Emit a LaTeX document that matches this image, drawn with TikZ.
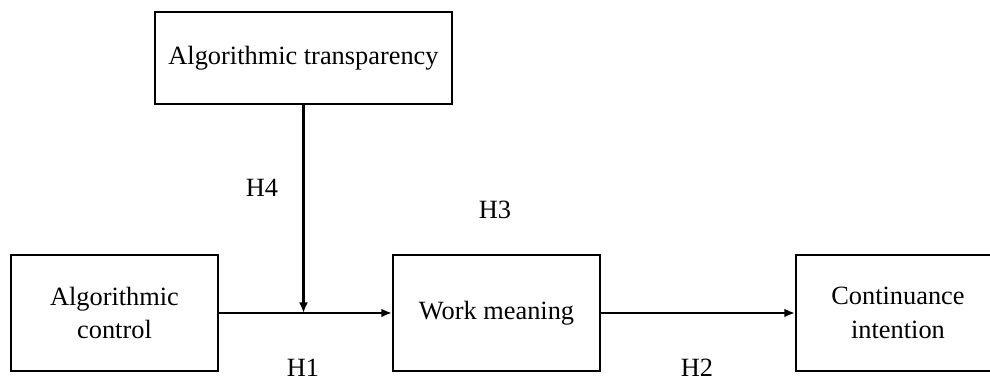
\documentclass[tikz,border=0pt]{standalone}
\usepackage{fontspec}
\setmainfont{Liberation Serif}
\usetikzlibrary{arrows.meta}

\begin{document}
\begin{tikzpicture}[
  var/.style={draw, line width=1.2pt, minimum width=4.14cm, minimum height=2.32cm,
    align=center, font=\fontsize{15}{19}\selectfont, inner sep=2pt},
  hyp/.style={font=\fontsize{15}{17}\selectfont, inner sep=0pt},
  arr/.style={-{Latex[length=6pt,width=5pt]}, line width=1.2pt}
]
  \useasboundingbox (0,0) rectangle (19.8,7.6);
  \clip (0,0) rectangle (19.8,7.6);

  \node[var, minimum width=5.94cm, minimum height=1.84cm] (trans) at (6.07,6.44) {Algorithmic transparency};
  \node[var] (ctrl) at (2.29,1.34) {Algorithmic\\control};
  \node[var] (work) at (9.93,1.34) {Work meaning};
  \node[var, minimum width=4.08cm] (cont) at (17.96,1.34) {Continuance\\intention};

  \coordinate (junc) at (trans.south |- ctrl.east);

  \draw[arr] (ctrl) -- (work);
  \draw[arr] (work) -- (cont);
  \draw[arr] (trans.south) -- (junc);

  \node[hyp] (h4) at (5.24,3.84) {H4};
  \node[hyp] (h3) at (9.90,3.40) {H3};
  \node[hyp] (h1) at (6.06,0.24) {H1};
  \node[hyp] (h2) at (13.94,0.24) {H2};
\end{tikzpicture}
\end{document}
